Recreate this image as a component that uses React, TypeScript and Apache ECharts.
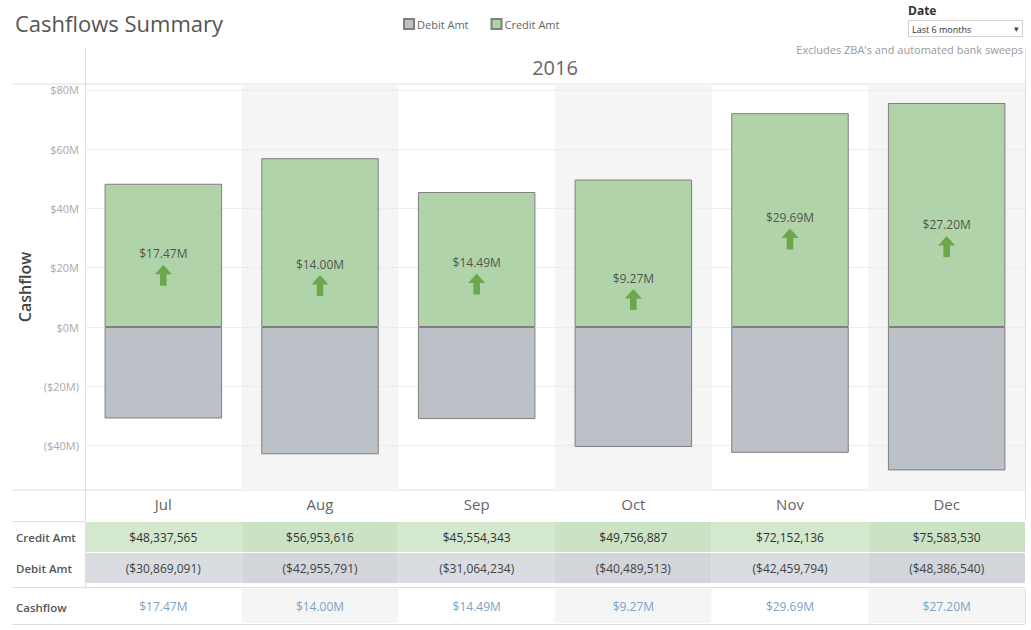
import React, { useEffect, useRef } from "react";
import * as echarts from "echarts";

const months = ["Jul", "Aug", "Sep", "Oct", "Nov", "Dec"];
const creditAmt = [48337565, 56953616, 45554343, 49756887, 72152136, 75583530];
const debitAmt = [-30869091, -42955791, -31064234, -40489513, -42459794, -48386540];
const cashflowM = [17.47, 14.0, 14.49, 9.27, 29.69, 27.2];
const yTicks = [-40, -20, 0, 20, 40, 60, 80];
const shadedCols = [0, 1, 0, 1, 0, 1];

const FONT = "'Open Sans', 'Noto Sans', sans-serif";

const fmtMoney = (v: number) =>
  v < 0 ? `($${(-v).toLocaleString("en-US")})` : `$${v.toLocaleString("en-US")}`;
const fmtAxis = (v: number) => (v < 0 ? `($${-v}M)` : `$${v}M`);
const fmtM = (v: number) => `$${v.toFixed(2)}M`;

const ARROW = "path://M9,0 L18,10 L12.5,10 L12.5,22 L5.5,22 L5.5,10 L0,10 Z";

function rowGrid(top: number, height: number) {
  return { left: 85, right: 6, top, height, containLabel: false };
}

export default function App() {
  const ref = useRef<HTMLDivElement>(null);
  useEffect(() => {
    if (!ref.current) return;
    const chart = echarts.init(ref.current, undefined, { renderer: "svg" });
    const rowBar = (
      gi: number,
      name: string,
      colors: [string, string],
      texts: string[],
      textColor: string
    ) => ({
      type: "bar",
      name,
      xAxisIndex: gi + 1,
      yAxisIndex: gi + 1,
      barWidth: "100%",
      silent: true,
      data: months.map((m, i) => ({
        value: 1,
        itemStyle: { color: colors[shadedCols[i]] },
      })),
      label: {
        show: true,
        position: "inside",
        formatter: (p: any) => texts[p.dataIndex],
        color: textColor,
        fontSize: 12,
        fontFamily: FONT,
      },
    });

    const line = (x1: number, y1: number, x2: number, y2: number, color = "#dedede") => ({
      type: "line",
      silent: true,
      shape: { x1, y1, x2, y2 },
      style: { stroke: color, lineWidth: 1 },
    });

    const option: any = {
      animation: false,
      textStyle: { fontFamily: FONT },
      title: {
        text: "Cashflows Summary",
        left: 10,
        top: 7,
        textStyle: { fontSize: 22, fontWeight: "normal", color: "#555", fontFamily: FONT },
      },
      legend: {
        data: ["Debit Amt", "Credit Amt"],
        left: 398,
        top: 13,
        icon: "rect",
        itemWidth: 10,
        itemHeight: 10,
        itemGap: 22,
        textStyle: { fontSize: 11, color: "#666", fontFamily: FONT, padding: [0, 0, 0, -2] },
        selectedMode: false,
      },
      grid: [
        { left: 85, right: 6, top: 84, bottom: 140 },
        rowGrid(522, 30),
        rowGrid(553, 30),
        rowGrid(589, 34),
      ],
      xAxis: [
        {
          type: "category",
          data: months,
          gridIndex: 0,
          axisLine: { show: false },
          axisTick: { show: false },
          axisLabel: { fontSize: 15, color: "#666", margin: 6, fontFamily: FONT },
        },
        { type: "category", data: months, gridIndex: 0, show: false },
        { type: "category", data: months, gridIndex: 1, show: false },
        { type: "category", data: months, gridIndex: 2, show: false },
        { type: "category", data: months, gridIndex: 3, show: false },
      ],
      yAxis: [
        {
          type: "value",
          gridIndex: 0,
          min: -55,
          max: 82,
          z: 1,
          name: "Cashflow",
          nameLocation: "middle",
          nameGap: 52,
          nameTextStyle: { fontSize: 16, fontWeight: 600, color: "#444", fontFamily: FONT },
          axisLine: { show: false },
          axisTick: { show: false, customValues: yTicks },
          axisLabel: {
            customValues: yTicks,
            formatter: fmtAxis,
            color: "#aaa",
            fontSize: 11,
            margin: 6,
            fontFamily: FONT,
          },
          splitLine: { show: true, lineStyle: { color: "#ececec", width: 1 } },
        },
        { type: "value", gridIndex: 0, min: 0, max: 1, show: false },
        { type: "value", gridIndex: 1, min: 0, max: 1, show: false },
        { type: "value", gridIndex: 2, min: 0, max: 1, show: false },
        { type: "value", gridIndex: 3, min: 0, max: 1, show: false },
      ],
      series: [
        {
          type: "bar",
          name: "bg",
          xAxisIndex: 1,
          yAxisIndex: 1,
          barWidth: "100%",
          silent: true,
          z: 0,
          itemStyle: { color: "#f5f5f5" },
          data: shadedCols,
        },
        {
          type: "bar",
          name: "Debit Amt",
          xAxisIndex: 0,
          yAxisIndex: 0,
          stack: "cf",
          barWidth: "75%",
          z: 2,
          itemStyle: { color: "#bcc0c7", borderColor: "#7f7f7f", borderWidth: 1 },
          data: debitAmt.map((v) => v / 1e6),
        },
        {
          type: "bar",
          name: "Credit Amt",
          xAxisIndex: 0,
          yAxisIndex: 0,
          stack: "cf",
          barWidth: "75%",
          z: 2,
          itemStyle: { color: "#b0d3a9", borderColor: "#7f7f7f", borderWidth: 1 },
          data: creditAmt.map((v) => v / 1e6),
        },
        {
          type: "scatter",
          name: "Cashflow",
          xAxisIndex: 0,
          yAxisIndex: 0,
          z: 3,
          symbol: ARROW,
          symbolSize: [17, 21],
          itemStyle: { color: "#5c9c34" },
          data: cashflowM,
          label: {
            show: true,
            position: "top",
            distance: 5,
            formatter: (p: any) => fmtM(p.value),
            color: "#333",
            fontSize: 12,
            fontFamily: FONT,
          },
        },
        rowBar(1, "creditRow", ["#d4e8cf", "#cbe2c5"], creditAmt.map(fmtMoney), "#333"),
        rowBar(2, "debitRow", ["#d9dce1", "#d2d5da"], debitAmt.map(fmtMoney), "#444"),
        rowBar(3, "cashRow", ["#ffffff", "#f5f5f5"], cashflowM.map(fmtM), "#7ea1c5"),
      ],
      graphic: [
        line(12, 84, 1025, 84),
        line(12, 490, 1025, 490),
        line(12, 521.5, 85, 521.5),
        line(12, 587.5, 1025, 587.5),
        line(12, 624.5, 1025, 624.5),
        line(85.5, 48, 85.5, 624),
        line(1025.5, 48, 1025.5, 520),
        line(1025.5, 589, 1025.5, 624),
        {
          type: "text",
          x: 555,
          y: 67,
          style: {
            text: "2016",
            fontSize: 20,
            fill: "#666",
            align: "center",
            verticalAlign: "middle",
            fontFamily: FONT,
          },
        },
        {
          type: "text",
          x: 908,
          y: 4,
          style: { text: "Date", fontSize: 12, fontWeight: "bold", fill: "#333", fontFamily: FONT },
        },
        {
          type: "rect",
          shape: { x: 908.5, y: 20.5, width: 114, height: 16 },
          style: { fill: "#fff", stroke: "#d0d0d0", lineWidth: 1 },
        },
        {
          type: "text",
          x: 912,
          y: 29,
          style: {
            text: "Last 6 months",
            fontSize: 9,
            fill: "#333",
            verticalAlign: "middle",
            fontFamily: FONT,
          },
        },
        {
          type: "text",
          x: 1016,
          y: 29,
          style: { text: "▾", fontSize: 9, fill: "#444", align: "center", verticalAlign: "middle" },
        },
        {
          type: "text",
          x: 1023,
          y: 49,
          style: {
            text: "Excludes ZBA's and automated bank sweeps",
            fontSize: 11,
            fill: "#999",
            align: "right",
            verticalAlign: "middle",
            fontFamily: FONT,
          },
        },
        {
          type: "text",
          x: 16,
          y: 537,
          style: { text: "Credit Amt", fontSize: 11.5, fontWeight: 600, fill: "#555", verticalAlign: "middle", fontFamily: FONT },
        },
        {
          type: "text",
          x: 16,
          y: 568,
          style: { text: "Debit Amt", fontSize: 11.5, fontWeight: 600, fill: "#555", verticalAlign: "middle", fontFamily: FONT },
        },
        {
          type: "text",
          x: 16,
          y: 607,
          style: { text: "Cashflow", fontSize: 11.5, fontWeight: 600, fill: "#555", verticalAlign: "middle", fontFamily: FONT },
        },
      ],
    };
    chart.setOption(option);
    return () => chart.dispose();
  }, []);
  return <div ref={ref} style={{ width: 1031, height: 630, position: "absolute", left: 0, top: 0 }} />;
}
